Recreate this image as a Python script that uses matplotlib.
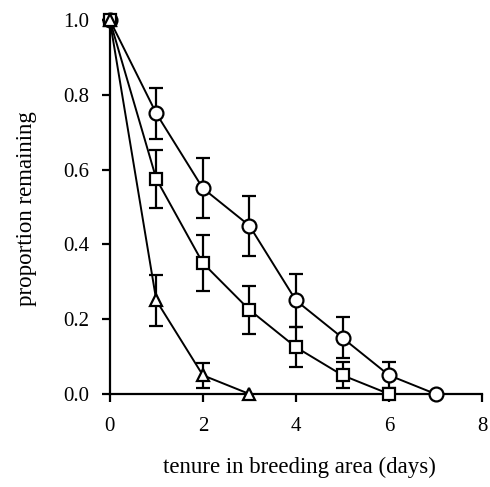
import numpy as np
import matplotlib
matplotlib.use('Agg')
import matplotlib.pyplot as plt

plt.rcParams['font.family'] = ['Liberation Serif', 'DejaVu Serif']

# proportion remaining per day, three groups
days_circ = [0, 1, 2, 3, 4, 5, 6, 7]
circ = [1.0, 0.75, 0.55, 0.45, 0.25, 0.15, 0.05, 0.0]
circ_err = [0, 0.068, 0.08, 0.08, 0.07, 0.055, 0.035, 0]

days_sq = [0, 1, 2, 3, 4, 5, 6]
sq = [1.0, 0.575, 0.35, 0.225, 0.125, 0.05, 0.0]
sq_err = [0, 0.077, 0.075, 0.065, 0.053, 0.035, 0]

days_tri = [0, 1, 2, 3]
tri = [1.0, 0.25, 0.05, 0.0]
tri_err = [0, 0.068, 0.033, 0]

fig = plt.figure(figsize=(4.9, 4.87), dpi=100)
ax = fig.add_axes([0.224, 0.191, 0.76, 0.768])

def draw(x, y, e, mk, ms):
    e = np.array(e)
    ax.errorbar(x, y, yerr=np.where(e > 0, e, np.nan), fmt='none', ecolor='black',
                elinewidth=1.6, capsize=5, capthick=1.6, clip_on=False, zorder=2)
    ax.plot(x, y, color='black', lw=1.4, marker=mk, ms=ms, mfc='white', mec='black',
            mew=1.6, clip_on=False, zorder=3)

draw(days_circ, circ, circ_err, 'o', 10)
draw(days_sq, sq, sq_err, 's', 9)
draw(days_tri, tri, tri_err, '^', 9)

ax.set_xlim(0, 8)
ax.set_ylim(0, 1.0)
ax.set_xticks([0, 2, 4, 6, 8])
ax.set_yticks([0.0, 0.2, 0.4, 0.6, 0.8, 1.0])
ax.set_yticklabels(['0.0', '0.2', '0.4', '0.6', '0.8', '1.0'])
ax.spines['top'].set_visible(False)
ax.spines['right'].set_visible(False)
ax.spines['left'].set_linewidth(1.6)
ax.spines['bottom'].set_linewidth(1.6)
ax.tick_params(direction='out', length=5.5, width=1.6, labelsize=15)
ax.tick_params(axis='x', pad=11)
ax.tick_params(axis='y', pad=9)

ax.set_xlabel('tenure in breeding area (days)', fontsize=16.5)
ax.set_ylabel('proportion remaining', fontsize=16.5)
ax.xaxis.label.set_va('center')
ax.yaxis.label.set_va('center')
ax.xaxis.set_label_coords(0.51, -0.195)
ax.yaxis.set_label_coords(-0.223, 0.495)

fig.savefig('out.png', dpi=100)
